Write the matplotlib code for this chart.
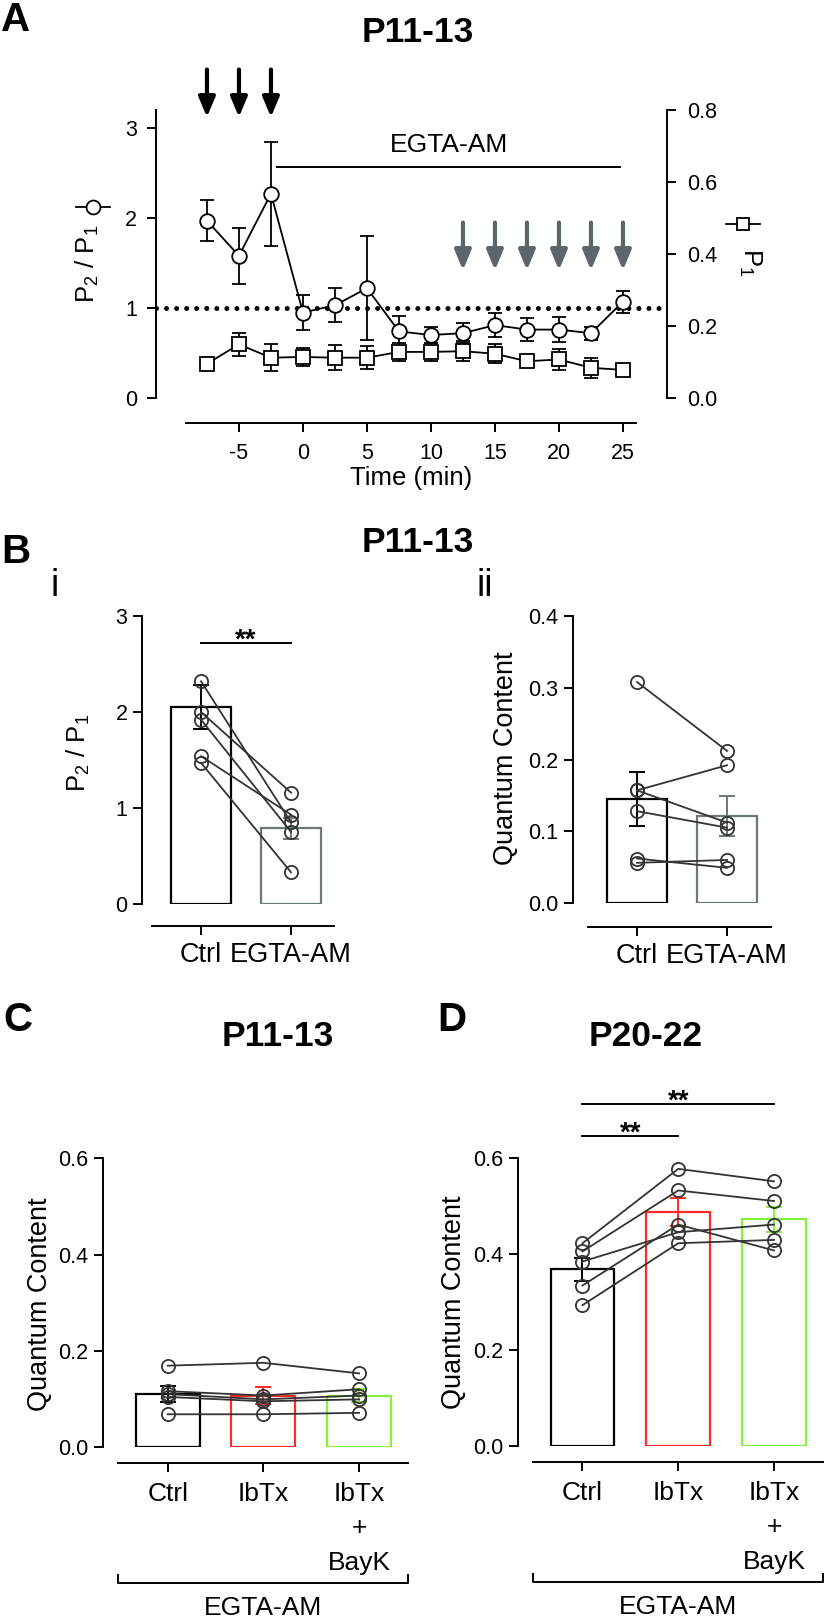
import numpy as np
import matplotlib.pyplot as plt
from matplotlib import font_manager
from matplotlib.lines import Line2D

plt.rcParams['font.family'] = ['Liberation Sans', 'DejaVu Sans']
plt.rcParams['mathtext.fontset'] = 'custom'
plt.rcParams['mathtext.rm'] = 'Liberation Sans'
plt.rcParams['mathtext.it'] = 'Liberation Sans:italic'
plt.rcParams['axes.linewidth'] = 1.4
plt.rcParams['axes.unicode_minus'] = False

# ---- data ----
# Panel A: time course
time_min = [-7.5, -5, -2.5, 0, 2.5, 5, 7.5, 10, 12.5, 15, 17.5, 20, 22.5, 25]
ppr_mean = [1.97, 1.58, 2.27, 0.95, 1.03, 1.22, 0.74, 0.70, 0.72, 0.81, 0.76, 0.76, 0.72, 1.07]
ppr_sem = [0.23, 0.31, 0.58, 0.19, 0.19, 0.58, 0.17, 0.09, 0.11, 0.13, 0.13, 0.14, 0.07, 0.12]
p1_mean = [0.095, 0.149, 0.112, 0.114, 0.112, 0.112, 0.128, 0.128, 0.130, 0.123, 0.102, 0.107, 0.084, 0.078]
p1_sem = [0.015, 0.032, 0.037, 0.026, 0.035, 0.032, 0.025, 0.025, 0.028, 0.026, 0.015, 0.030, 0.028, 0.005]
black_arrow_times = [-7.5, -5, -2.5]
gray_arrow_times = [12.5, 15, 17.5, 20, 22.5, 25]
egta_window = [-2.0, 24.8]
egta_label_x = 11.4

# Panel B
b_groups = ['Ctrl', 'EGTA-AM']
bi_bar = [2.05, 0.79]
bi_sem = [0.23, 0.11]
bi_ctrl = [2.32, 2.00, 1.92, 1.54, 1.47]
bi_egta = [0.85, 1.16, 0.75, 0.93, 0.33]
bii_bar = [0.145, 0.121]
bii_sem = [0.037, 0.028]
bii_ctrl = [0.308, 0.157, 0.157, 0.128, 0.062, 0.056]
bii_egta = [0.212, 0.192, 0.112, 0.105, 0.049, 0.060]

# Panels C and D
cd_groups = ['Ctrl', 'IbTx', 'IbTx\n+\nBayK']
c_bar = [0.110, 0.107, 0.107]
c_sem = [0.016, 0.018, 0.013]
c_ctrl = [0.169, 0.116, 0.110, 0.104, 0.068]
c_ibtx = [0.175, 0.107, 0.099, 0.095, 0.068]
c_bayk = [0.153, 0.120, 0.107, 0.099, 0.071]
d_bar = [0.369, 0.488, 0.473]
d_sem = [0.024, 0.030, 0.026]
d_ctrl = [0.423, 0.406, 0.385, 0.335, 0.294]
d_ibtx = [0.578, 0.533, 0.446, 0.462, 0.423]
d_bayk = [0.552, 0.511, 0.462, 0.408, 0.430]

# ---- layout helpers (pixel coords, origin top-left) ----
W, H = 826, 1620
fig = plt.figure(figsize=(W / 100, H / 100), dpi=100)


def add_ax(x0, x1, ytop, ybot):
    return fig.add_axes([x0 / W, 1 - ybot / H, (x1 - x0) / W, (ybot - ytop) / H])


def ftext(x, y, s, **kw):
    fig.text(x / W, 1 - y / H, s, ha='center', va='center', **kw)


def fig_symbol(x0, x1, y, marker, ms):
    fig.add_artist(Line2D([x0 / W, x1 / W], [1 - y / H] * 2, transform=fig.transFigure,
                          color='k', lw=1.3))
    fig.add_artist(Line2D([(x0 + x1) / 2 / W], [1 - y / H], transform=fig.transFigure,
                          marker=marker, ms=ms, mfc='white', mec='k', mew=1.3, ls='none'))


def style_ax(ax, size=15.5):
    for s in ['top', 'right']:
        ax.spines[s].set_visible(False)
    ax.tick_params(width=1.4, length=6.5, labelsize=size, direction='out')


dark = '#333333'
gray = '#6b7878'
red = '#ff2a2a'
green = '#86f03c'
star_kw = dict(ha='center', va='baseline', fontsize=20, fontweight='bold')

# ================= Panel A =================
axA = add_ax(156, 667, 110, 398)
style_ax(axA)
axA.set_xlim(-11.48, 28.44)
axA.set_ylim(0, 3.2)
axA.spines['bottom'].set_position(('outward', 18))
axA.spines['bottom'].set_bounds(-9.1, 26)
axA.set_xticks([-5, 0, 5, 10, 15, 20, 25])
axA.set_yticks([0, 1, 2, 3])
axA.tick_params(axis='x', pad=8)
axA.tick_params(axis='y', pad=7)
axA.axhline(1, color='k', lw=3.6, ls=(0, (0.01, 2.0)), dash_capstyle='round', zorder=1)
axA.errorbar(time_min, ppr_mean, yerr=ppr_sem, fmt='-o', color='k', mfc='white', mec='k',
             ms=10.5, mew=1.3, lw=1.3, elinewidth=1.3, capsize=5, capthick=1.3, zorder=3)
axA.set_xlabel('Time (min)', fontsize=18.5, labelpad=1)

axA2 = axA.twinx()
axA2.set_ylim(0, 0.8)
for s in ['top', 'left', 'bottom']:
    axA2.spines[s].set_visible(False)
axA2.set_yticks([0, 0.2, 0.4, 0.6, 0.8])
axA2.set_yticklabels(['%.1f' % v for v in [0, 0.2, 0.4, 0.6, 0.8]])
axA2.tick_params(width=1.4, length=6.5, labelsize=15.5, pad=8)
axA2.errorbar(time_min, p1_mean, yerr=p1_sem, fmt='-s', color='k', mfc='white', mec='k',
              ms=9.5, mew=1.3, lw=1.3, elinewidth=1.3, capsize=5, capthick=1.3, zorder=3)

arrow_style = '-|>,head_length=0.6,head_width=0.25'
for t in black_arrow_times:
    axA.annotate('', xy=(t, 3.12), xytext=(t, 3.65), annotation_clip=False,
                 arrowprops=dict(arrowstyle=arrow_style, mutation_scale=20, lw=3,
                                 color='k', shrinkA=0, shrinkB=0))
for t in gray_arrow_times:
    axA.annotate('', xy=(t, 1.42), xytext=(t, 1.95), annotation_clip=False,
                 arrowprops=dict(arrowstyle=arrow_style, mutation_scale=20, lw=3,
                                 color='#5b6668', shrinkA=0, shrinkB=0))
axA.plot(egta_window, [2.57, 2.57], color='k', lw=1.4, clip_on=False)
axA.text(egta_label_x, 2.81, 'EGTA-AM', ha='center', va='center', fontsize=19)

ftext(87, 264, r'$\mathrm{P_2\ /\ P_1}$', rotation=90, fontsize=18.5)
fig_symbol(76, 110, 207, 'o', 10)
ftext(750, 262, r'$\mathrm{P_1}$', rotation=270, fontsize=18.5)
fig_symbol(726, 760, 224, 's', 9)

ftext(418, 33, 'P11-13', fontsize=25.5, fontweight='bold')
ftext(16, 20, 'A', fontsize=29, fontweight='bold')


# ================= Panel B =================
def paired_bar(ax, bars, sems, cols, groups, ylim, yticks, fmt, **lab_kw):
    x = np.arange(len(bars))
    ax.bar(x, bars, width=0.667, facecolor='none', edgecolor=cols, lw=1.6, zorder=1)
    for xi, b, s, c in zip(x, bars, sems, cols):
        ax.errorbar(xi, b, yerr=s, color=c, capsize=6, elinewidth=1.4, capthick=1.4, zorder=2)
    ax.set_ylim(*ylim)
    ax.set_yticks(yticks)
    ax.set_yticklabels([fmt % v for v in yticks])
    ax.set_xticks(x)
    ax.set_xticklabels(groups, **lab_kw)
    return x


installed = {f.name for f in font_manager.fontManager.ttflist}
if 'Liberation Sans Narrow' in installed:
    b_lab_family, b_lab_size = ['Liberation Sans Narrow', 'Liberation Sans'], 22
else:
    b_lab_family, b_lab_size = ['Liberation Sans'], 19.5

axBi = add_ax(142, 340, 616, 904)
style_ax(axBi)
axBi.set_xlim(-0.656, 1.544)
axBi.spines['bottom'].set_position(('outward', 16))
axBi.spines['bottom'].set_bounds(-0.544, 1.48)
xb = paired_bar(axBi, bi_bar, bi_sem, ['k', gray], b_groups, (0, 3), [0, 1, 2, 3], '%d')
for a, b in zip(bi_ctrl, bi_egta):
    axBi.plot(xb, [a, b], '-o', color=dark, mfc='none', mec=dark, ms=9.5, mew=1.3, lw=1.3, zorder=4)
axBi.plot([0, 1], [2.72, 2.72], color='k', lw=1.4)
axBi.text(0.5, 2.668, '**', **star_kw)
ftext(78, 753, r'$\mathrm{P_2\ /\ P_1}$', rotation=90, fontsize=18.5)

axBii = add_ax(573, 775, 616, 903)
style_ax(axBii)
axBii.set_xlim(-0.711, 1.533)
axBii.spines['bottom'].set_position(('outward', 17))
axBii.spines['bottom'].set_bounds(-0.544, 1.49)
xb = paired_bar(axBii, bii_bar, bii_sem, ['k', gray], b_groups, (0, 0.4),
                [0, 0.1, 0.2, 0.3, 0.4], '%.1f')
for a, b in zip(bii_ctrl, bii_egta):
    axBii.plot(xb, [a, b], '-o', color=dark, mfc='none', mec=dark, ms=9.5, mew=1.3, lw=1.3, zorder=4)
ftext(506, 758, 'Quantum Content', rotation=90, fontsize=19.5)

for ax in [axBi, axBii]:
    ax.tick_params(axis='y', pad=4)
    ax.tick_params(axis='x', pad=5)
    for lab in ax.get_xticklabels():
        lab.set_fontfamily(b_lab_family)
        lab.set_fontsize(b_lab_size)

ftext(418, 542, 'P11-13', fontsize=25.5, fontweight='bold')
ftext(16, 552, 'B', fontsize=29, fontweight='bold')
ftext(55, 586, 'i', fontsize=27)
ftext(485, 586, 'ii', fontsize=27)


# ================= Panels C and D =================
def triple_panel(ax, bars, sems, series, xlim, xbounds):
    style_ax(ax)
    ax.set_xlim(*xlim)
    ax.spines['bottom'].set_position(('outward', 11.5))
    ax.spines['bottom'].set_bounds(*xbounds)
    x = paired_bar(ax, bars, sems, ['k', red, green], cd_groups, (0, 0.6),
                   [0, 0.2, 0.4, 0.6], '%.1f', linespacing=1.55, fontsize=19)
    for pts in zip(*series):
        ax.plot(x, pts, '-o', color=dark, mfc='none', mec=dark, ms=9.5, mew=1.3, lw=1.3, zorder=4)
    ax.tick_params(axis='y', pad=4)
    ax.tick_params(axis='x', pad=7)
    tr = ax.get_xaxis_transform()
    ax.plot([xbounds[0], xbounds[0], xbounds[1], xbounds[1]], [-0.443, -0.471, -0.471, -0.443],
            color='k', lw=1.4, transform=tr, clip_on=False)
    ax.text(np.mean(xbounds), -0.558, 'EGTA-AM', transform=tr, ha='center', va='center', fontsize=19)


axC = add_ax(103.3, 410, 1158.3, 1447)
triple_panel(axC, c_bar, c_sem, [c_ctrl, c_ibtx, c_bayk], (-0.673, 2.532), (-0.52, 2.51))
ftext(40, 1304, 'Quantum Content', rotation=90, fontsize=19.5)
ftext(278, 1037, 'P11-13', fontsize=25.5, fontweight='bold')
ftext(18, 1020, 'C', fontsize=29, fontweight='bold')

axD = add_ax(518.3, 826, 1158.3, 1446.3)
triple_panel(axD, d_bar, d_sem, [d_ctrl, d_ibtx, d_bayk], (-0.670, 2.543), (-0.52, 2.51))
axD.plot([0, 1], [0.647, 0.647], color='k', lw=1.4, clip_on=False)
axD.text(0.5, 0.637, '**', **star_kw)
axD.plot([0, 2], [0.714, 0.714], color='k', lw=1.4, clip_on=False)
axD.text(1.0, 0.704, '**', **star_kw)
ftext(454, 1302, 'Quantum Content', rotation=90, fontsize=19.5)
ftext(646, 1036, 'P20-22', fontsize=25.5, fontweight='bold')
ftext(452, 1020, 'D', fontsize=29, fontweight='bold')

fig.savefig('out.png', dpi=100)
